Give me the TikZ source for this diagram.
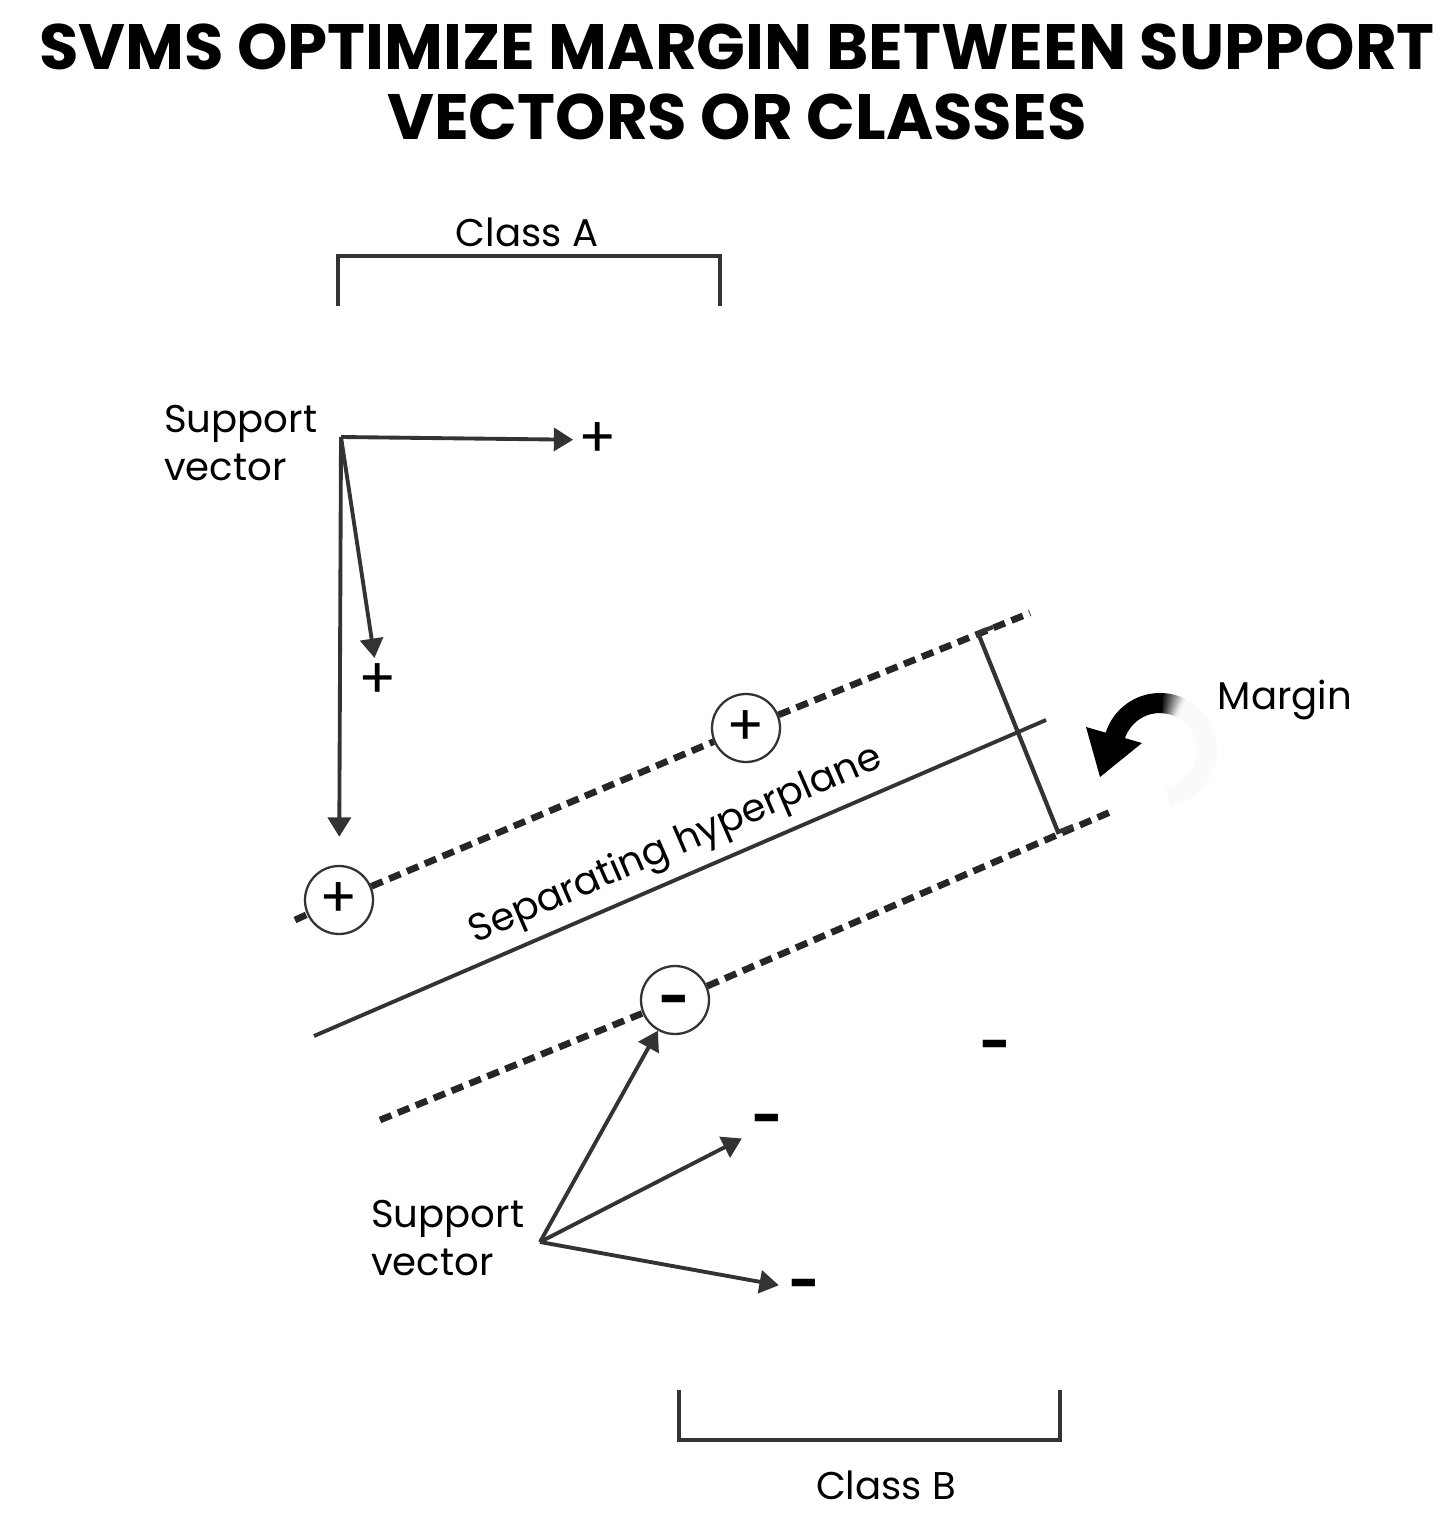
\documentclass[tikz,border=0pt]{standalone}
\usepackage{fontspec}
\setmainfont{Poppins}
\usetikzlibrary{arrows.meta}
\definecolor{inkgray}{RGB}{51,51,51}

\tikzset{
  lbl/.style={font=\fontsize{22}{27}\selectfont, align=left},
  sign/.style={font=\fontsize{32}{32}\selectfont, inner sep=3pt},
  nsign/.style={font=\bfseries\fontsize{30}{30}\selectfont, inner sep=6pt},
  pt/.style={circle, draw=inkgray, line width=1.3pt, fill=white, minimum size=1.36cm, inner sep=0pt, font=\fontsize{32}{32}\selectfont},
  vec/.style={draw=inkgray, line width=2.2pt, -{Triangle[length=11pt,width=13pt]}},
  bracket/.style={draw=inkgray, line width=2.4pt},
  bound/.style={draw=black!85, line width=3.8pt, dash pattern=on 7pt off 4pt},
}

\begin{document}
\begin{tikzpicture}[x=0.02cm,y=-0.02cm]
\useasboundingbox (0,0) rectangle (1449,1514);
\node[font=\bfseries\fontsize{36.5}{40}\selectfont, align=center] (title) at (737,82) {SVMS OPTIMIZE MARGIN BETWEEN SUPPORT\\VECTORS OR CLASSES};

% class A
\draw[bracket] (338,306) -- (338,256) -- (720,256) -- (720,306);
\node[lbl] (classa) at (527,232) {Class A};

% positive support vectors
\node[lbl, anchor=west] (sva) at (158,443) {Support\\vector};
\coordinate (soa) at (341,437);
\node[sign] (pa) at (598,440) {+};
\node[sign] (pb) at (378,681) {+};

% boundaries and hyperplane
\coordinate (ua) at (295,920);
\coordinate (ub) at (1030,613);
\coordinate (la) at (380,1120);
\coordinate (lb) at (1115,810);
\coordinate (ha) at (314,1036);
\coordinate (hb) at (1046,720);
\node[pt] (up1) at (339,900) {+};
\node[pt] (up2) at (746,728) {+};
\node[pt] (mn1) at (675,1000) {};
\node[nsign, inner sep=0pt] (mn1s) at (675,1006) {-};
\draw[bound] (ua) -- (up1) -- (up2) -- (ub);
\draw[bound] (la) -- (mn1) -- (lb);
\draw[draw=inkgray, line width=2.2pt] (ha) -- (hb);
\node[lbl, rotate=23.5] (hyper) at (676,846) {Separating hyperplane};

\draw[vec] (soa) -- (pa);
\draw[vec] (soa) -- (pb);
\draw[vec, shorten >=16pt] (soa) -- (up1);

% margin
\coordinate (mt) at (978,633);
\coordinate (mb) at (1058,832);
\draw[bracket] (993,627) -- (mt) -- (mb) -- (1073,826);
\draw[black!2, line width=11.4pt] (1160,750) ++(290:47) arc[start angle=290, end angle=440, radius=47];
\foreach \i in {0,...,11} {
  \pgfmathsetmacro\shade{95-8*\i}
  \draw[black!\shade, line width=11.4pt] (1160,750) ++({272+2*\i}:47) arc[start angle={272+2*\i}, end angle={275+2*\i}, radius=47];
}
\draw[black, line width=11.4pt] (1160,750) ++(273:47) arc[start angle=273, end angle=196, radius=47];
\fill[black] (1100,777) -- (1086,727) -- (1142,743) -- cycle;
\node[lbl] (margin) at (1285,700) {Margin};

% negative support vectors
\node[lbl, anchor=west] (svb) at (365,1238) {Support\\vector};
\coordinate (sob) at (540,1242);
\node[nsign] (mna) at (996,1051) {-};
\node[nsign] (mnb) at (768,1125) {-};
\node[nsign] (mnc) at (805,1290) {-};
\draw[vec] (sob) -- (mn1);
\draw[vec] (sob) -- (mnb);
\draw[vec] (sob) -- (mnc);

% class B
\draw[bracket] (679,1390) -- (679,1440) -- (1060,1440) -- (1060,1390);
\node[lbl] (classb) at (886,1485) {Class B};
\end{tikzpicture}
\end{document}
